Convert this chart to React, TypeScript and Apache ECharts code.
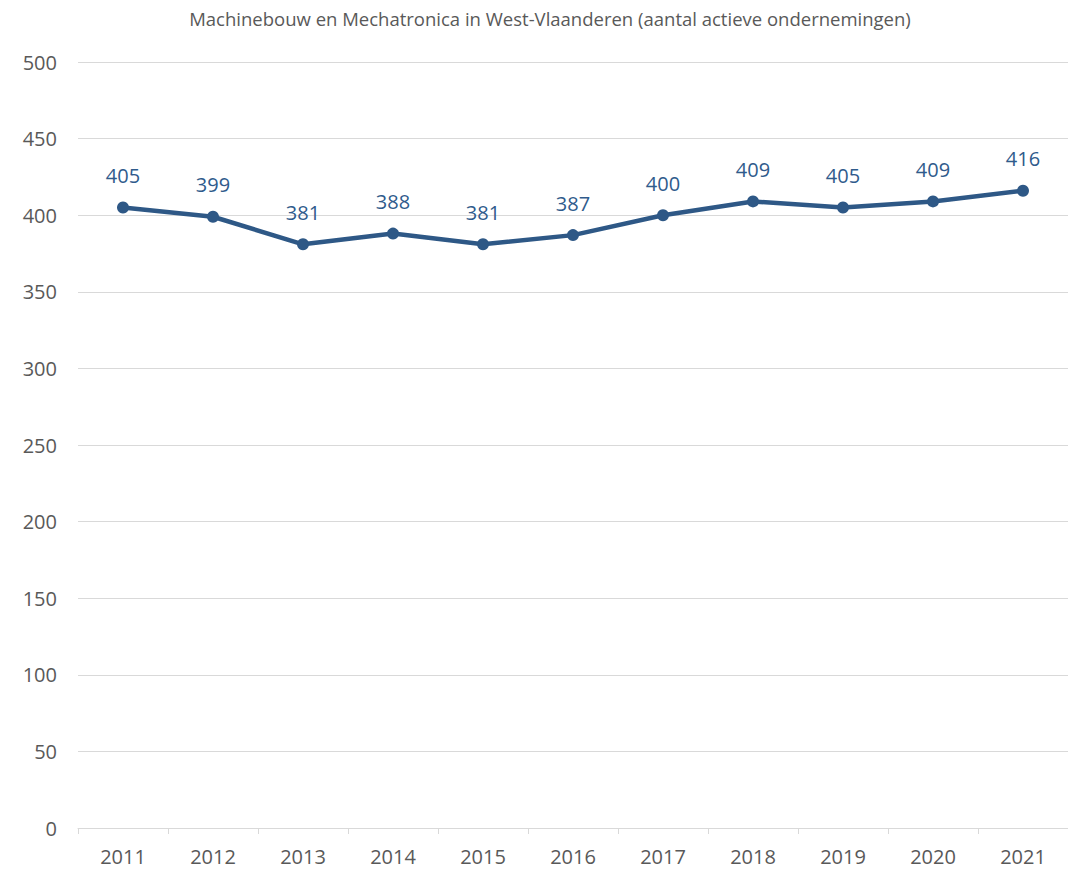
import React, { useEffect, useRef } from "react";
import * as echarts from "echarts";

const years = ["2011", "2012", "2013", "2014", "2015", "2016", "2017", "2018", "2019", "2020", "2021"];
const values = [405, 399, 381, 388, 381, 387, 400, 409, 405, 409, 416];
const titleText = "Machinebouw en Mechatronica in West-Vlaanderen (aantal actieve ondernemingen)";

export default function App() {
  const ref = useRef<HTMLDivElement>(null);
  useEffect(() => {
    const chart = echarts.init(ref.current!, null, { renderer: "svg" });
    const font = "'Open Sans', 'Noto Sans', sans-serif";
    chart.setOption({
      animation: false,
      textStyle: { fontFamily: font },
      graphic: [
        {
          type: "text",
          x: 550,
          y: 18,
          style: {
            text: titleText,
            fill: "#595959",
            font: `18.5px ${font}`,
            textAlign: "center",
            textVerticalAlign: "middle",
          },
        },
      ],
      grid: { left: 78, right: 0, top: 62, bottom: 42, containLabel: false },
      xAxis: {
        type: "category",
        data: years,
        boundaryGap: true,
        axisLine: { lineStyle: { color: "#d9d9d9", width: 1 } },
        axisTick: { show: true, alignWithLabel: false, length: 6, lineStyle: { color: "#d9d9d9" } },
        axisLabel: { color: "#595959", fontSize: 20, lineHeight: 16, margin: 20, fontFamily: font },
      },
      yAxis: {
        type: "value",
        min: 0,
        max: 500,
        interval: 50,
        axisLine: { show: false },
        axisTick: { show: false },
        splitLine: { lineStyle: { color: "#d9d9d9", width: 1 } },
        axisLabel: { color: "#595959", fontSize: 20, margin: 21, fontFamily: font },
      },
      series: [
        {
          type: "line",
          data: values,
          symbol: "circle",
          symbolSize: 12,
          lineStyle: { color: "#2E5886", width: 4.5 },
          itemStyle: { color: "#2E5886" },
          label: {
            show: true,
            position: "top",
            distance: 16,
            color: "#2F5B8C",
            fontSize: 20,
            fontFamily: font,
          },
        },
      ],
    });
    return () => chart.dispose();
  }, []);
  return (
    <div
      ref={ref}
      style={{ position: "fixed", left: 0, top: 0, width: 1068, height: 870, background: "#fff" }}
    />
  );
}
